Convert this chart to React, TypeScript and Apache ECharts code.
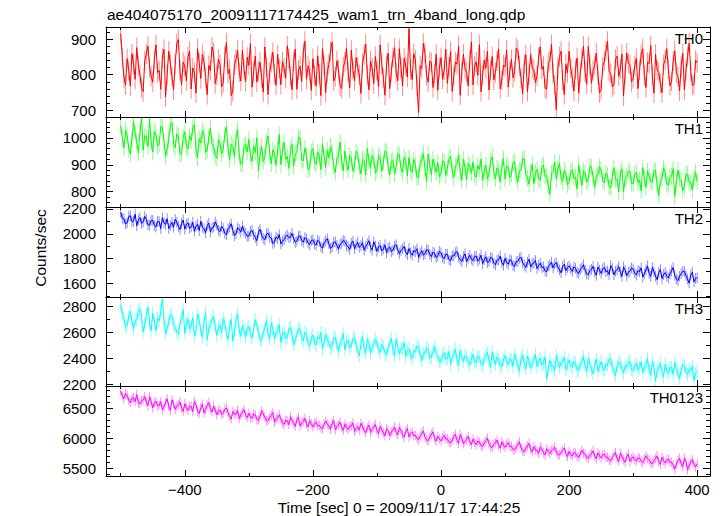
import React, { useEffect, useRef } from "react";
import * as echarts from "echarts";

// ---- data (counts/sec, 2.5-s bins starting at t = -500 s) ----
const TIME_START = -500;
const BIN_SEC = 2.5;

const TH0 = [
  915, 848, 792, 771, 845, 812, 768, 859, 830, 787, 876, 824, 801, 763, 752, 839, 858, 880, 821, 796,
  779, 842, 884, 806, 812, 759, 846, 871, 737, 801, 866, 829, 795, 757, 830, 888, 899, 811, 772, 835,
  824, 783, 851, 866, 760, 819, 807, 748, 873, 834, 789, 857, 838, 792, 744, 826, 812, 878, 862, 775,
  798, 844, 829, 766, 776, 852, 890, 803, 815, 741, 754, 827, 843, 869, 807, 782, 869, 814, 781, 849,
  826, 887, 765, 808, 852, 779, 810, 835, 791, 751, 878, 822, 744, 806, 834, 863, 803, 770, 857, 816,
  772, 837, 819, 790, 881, 846, 796, 758, 838, 872, 759, 813, 824, 781, 862, 894, 787, 825, 810, 756,
  845, 799, 768, 853, 802, 741, 873, 827, 750, 808, 829, 866, 891, 782, 794, 839, 815, 768, 761, 822,
  836, 874, 808, 763, 869, 815, 783, 848, 822, 799, 747, 831, 856, 886, 800, 757, 838, 819, 775, 851,
  812, 766, 884, 830, 790, 742, 827, 861, 761, 809, 848, 876, 805, 783, 873, 821, 768, 846, 825, 793,
  930, 815, 786, 859, 842, 770, 694, 825, 817, 888, 861, 797, 779, 838, 834, 764, 802, 857, 756, 819,
  848, 787, 813, 871, 776, 822, 865, 753, 795, 836, 829, 880, 742, 809, 858, 817, 807, 768, 840, 892,
  771, 824, 836, 798, 884, 752, 799, 841, 818, 866, 757, 812, 851, 785, 806, 839, 872, 760, 784, 827,
  822, 869, 765, 810, 843, 791, 809, 875, 868, 825, 790, 746, 831, 856, 752, 801, 857, 818, 813, 778,
  797, 850, 878, 815, 824, 762, 760, 833, 839, 885, 803, 771, 702, 819, 851, 866, 785, 744, 829, 805,
  866, 818, 792, 754, 815, 847, 748, 806, 843, 880, 807, 773, 879, 826, 776, 812, 826, 861, 801, 749,
  758, 822, 838, 867, 894, 809, 803, 766, 771, 843, 852, 795, 815, 858, 740, 804, 861, 832, 829, 780,
  789, 825, 846, 761, 812, 857, 873, 798, 764, 835, 831, 882, 797, 748, 858, 813, 806, 776, 749, 828,
  842, 873, 815, 769, 781, 838, 867, 805, 795, 754, 824, 860, 758, 812, 851, 889, 809, 770, 772, 841,
  833,
];

const TH1 = [
  1045, 1001, 962, 1028, 1010, 958, 941, 995, 1062, 1017, 987, 944, 1020, 1075, 955, 1009, 1003, 968, 1071, 985,
  948, 1026, 1012, 970, 976, 1043, 1040, 989, 931, 960, 995, 1051, 1058, 977, 964, 1015, 1007, 939, 942, 1003,
  1023, 968, 959, 1008, 990, 1039, 1049, 957, 925, 998, 981, 1027, 1013, 946, 952, 1004, 1036, 979, 970, 931,
  924, 993, 982, 941, 958, 1014, 1041, 962, 917, 978, 969, 930, 998, 1032, 935, 902, 906, 971, 976, 948,
  995, 934, 913, 968, 946, 1001, 877, 939, 969, 912, 930, 986, 1007, 948, 903, 957, 940, 898, 955, 1012,
  901, 955, 983, 921, 932, 887, 958, 976, 894, 940, 946, 1003, 999, 918, 915, 962, 937, 881, 886, 949,
  960, 911, 902, 948, 933, 882, 978, 931, 890, 954, 925, 969, 947, 894, 871, 922, 936, 985, 909, 877,
  951, 902, 880, 936, 922, 878, 898, 950, 940, 893, 867, 921, 915, 862, 960, 914, 888, 935, 923, 869,
  880, 935, 925, 876, 909, 952, 947, 894, 862, 913, 919, 866, 893, 941, 938, 887, 871, 929, 916, 858,
  927, 881, 872, 920, 901, 853, 854, 906, 918, 942, 885, 839, 940, 898, 863, 921, 894, 872, 909, 856,
  867, 914, 912, 861, 888, 925, 931, 877, 853, 896, 900, 938, 876, 842, 921, 889, 844, 905, 895, 869,
  910, 863, 854, 897, 883, 921, 842, 875, 899, 848, 865, 916, 930, 873, 848, 889, 877, 835, 893, 924,
  847, 896, 891, 852, 865, 907, 912, 858, 836, 879, 880, 922, 922, 864, 850, 827, 874, 901, 829, 870,
  883, 846, 842, 893, 899, 857, 860, 821, 790, 868, 875, 911, 847, 885, 906, 852, 838, 879, 865, 826,
  837, 874, 882, 849, 855, 809, 900, 861, 823, 878, 870, 835, 847, 895, 891, 852, 816, 860, 863, 893,
  882, 841, 833, 869, 861, 818, 814, 857, 890, 846, 847, 799, 869, 885, 799, 848, 856, 874, 878, 831,
  829, 867, 872, 834, 844, 803, 890, 851, 815, 876, 857, 839, 836, 878, 879, 824, 785, 842, 851, 889,
  871, 829, 825, 852, 858, 886, 782, 839, 880, 847, 843, 803, 819, 866, 865, 834, 834, 806, 851, 872,
  838,
];

const TH2 = [
  2172, 2126, 2121, 2079, 2088, 2139, 2146, 2097, 2103, 2158, 2065, 2112, 2131, 2083, 2094, 2140, 2116, 2071, 2069, 2108,
  2109, 2066, 2054, 2101, 2098, 2041, 2130, 2088, 2075, 2122, 2042, 2067, 2091, 2053, 2117, 2094, 2059, 2034, 2083, 2111,
  2037, 2078, 2089, 2044, 2056, 2093, 2020, 2061, 2077, 2025, 2101, 2052, 2041, 2008, 2066, 2087, 2015, 2049, 2054, 2096,
  2071, 2029, 2018, 2059, 2043, 2003, 1992, 2040, 2055, 2081, 2026, 1985, 1998, 2049, 2037, 2013, 2062, 2021, 2004, 1979,
  1981, 2018, 2027, 1993, 1970, 1944, 2012, 2036, 1988, 1962, 1951, 1997, 2005, 1974, 1966, 1921, 1932, 1975, 1960, 1994,
  1918, 1939, 1952, 1977, 1990, 1968, 1974, 2003, 1962, 1931, 1941, 1979, 1983, 1947, 1932, 1969, 1958, 1925, 1912, 1946,
  1951, 1919, 1908, 1948, 1937, 1896, 1884, 1927, 1942, 1961, 1919, 1882, 1893, 1930, 1935, 1906, 1878, 1914, 1924, 1946,
  1938, 1907, 1896, 1873, 1924, 1941, 1879, 1911, 1931, 1889, 1905, 1928, 1867, 1898, 1919, 1944, 1891, 1868, 1936, 1902,
  1858, 1893, 1905, 1862, 1877, 1911, 1846, 1884, 1893, 1856, 1868, 1902, 1912, 1871, 1839, 1865, 1879, 1898, 1853, 1831,
  1881, 1846, 1827, 1863, 1856, 1879, 1810, 1841, 1863, 1828, 1838, 1871, 1869, 1834, 1815, 1852, 1844, 1807, 1822, 1859,
  1846, 1809, 1800, 1836, 1834, 1792, 1782, 1824, 1821, 1848, 1857, 1811, 1793, 1776, 1815, 1839, 1774, 1803, 1827, 1795,
  1784, 1815, 1821, 1779, 1796, 1827, 1759, 1791, 1815, 1768, 1776, 1809, 1803, 1763, 1750, 1787, 1791, 1820, 1768, 1746,
  1802, 1770, 1754, 1791, 1783, 1744, 1739, 1776, 1778, 1803, 1810, 1766, 1748, 1729, 1771, 1795, 1732, 1758, 1764, 1785,
  1719, 1745, 1762, 1728, 1733, 1700, 1695, 1738, 1750, 1771, 1724, 1756, 1768, 1731, 1709, 1685, 1736, 1754, 1702, 1727,
  1741, 1718, 1697, 1733, 1722, 1689, 1679, 1712, 1728, 1750, 1705, 1676, 1671, 1703, 1714, 1738, 1692, 1665, 1732, 1707,
  1681, 1716, 1728, 1694, 1702, 1671, 1743, 1721, 1669, 1698, 1711, 1735, 1690, 1657, 1733, 1706, 1662, 1689, 1698, 1724,
  1716, 1683, 1667, 1702, 1695, 1726, 1651, 1676, 1709, 1741, 1680, 1656, 1728, 1694, 1658, 1630, 1687, 1712, 1639, 1671,
  1687, 1659, 1643, 1676, 1702, 1728, 1665, 1634, 1623, 1658, 1679, 1697, 1696, 1663, 1634, 1602, 1668, 1690, 1612, 1640,
  1645,
];

const TH3 = [
  2812, 2741, 2705, 2637, 2650, 2719, 2758, 2684, 2621, 2692, 2694, 2763, 2779, 2711, 2602, 2655, 2733, 2790, 2668, 2609,
  2745, 2671, 2613, 2704, 2688, 2752, 2855, 2697, 2590, 2631, 2672, 2738, 2721, 2652, 2638, 2597, 2584, 2669, 2706, 2773,
  2592, 2665, 2701, 2624, 2647, 2710, 2569, 2611, 2738, 2689, 2615, 2560, 2682, 2747, 2543, 2626, 2660, 2693, 2719, 2641,
  2574, 2632, 2658, 2595, 2703, 2667, 2589, 2546, 2640, 2698, 2531, 2609, 2685, 2742, 2607, 2568, 2650, 2613, 2562, 2629,
  2646, 2588, 2558, 2621, 2697, 2651, 2605, 2539, 2537, 2602, 2631, 2689, 2584, 2549, 2674, 2622, 2550, 2596, 2613, 2657,
  2518, 2587, 2605, 2547, 2561, 2623, 2640, 2578, 2504, 2541, 2577, 2629, 2623, 2553, 2532, 2601, 2586, 2515, 2493, 2558,
  2578, 2520, 2501, 2563, 2549, 2597, 2468, 2527, 2584, 2541, 2523, 2475, 2492, 2556, 2559, 2504, 2450, 2512, 2537, 2589,
  2463, 2527, 2537, 2480, 2495, 2552, 2559, 2498, 2452, 2419, 2510, 2566, 2474, 2438, 2542, 2509, 2439, 2487, 2501, 2545,
  2521, 2466, 2442, 2505, 2489, 2436, 2425, 2480, 2512, 2553, 2460, 2417, 2544, 2491, 2431, 2474, 2476, 2520, 2414, 2458,
  2472, 2421, 2398, 2459, 2450, 2496, 2487, 2420, 2381, 2437, 2436, 2479, 2469, 2401, 2406, 2452, 2493, 2430, 2419, 2375,
  2369, 2428, 2442, 2390, 2398, 2451, 2353, 2411, 2431, 2468, 2387, 2345, 2460, 2409, 2375, 2423, 2412, 2366, 2346, 2398,
  2429, 2371, 2364, 2417, 2406, 2355, 2341, 2398, 2418, 2446, 2376, 2329, 2450, 2394, 2353, 2411, 2392, 2343, 2332, 2386,
  2418, 2372, 2349, 2399, 2385, 2337, 2434, 2381, 2338, 2306, 2396, 2427, 2361, 2318, 2417, 2376, 2327, 2364, 2380, 2431,
  2336, 2381, 2399, 2347, 2362, 2410, 2240, 2318, 2383, 2339, 2345, 2301, 2420, 2377, 2329, 2368, 2371, 2406, 2312, 2352,
  2385, 2343, 2328, 2376, 2361, 2309, 2307, 2355, 2376, 2414, 2341, 2297, 2398, 2350, 2315, 2281, 2354, 2392, 2300, 2338,
  2373, 2322, 2306, 2358, 2347, 2391, 2390, 2334, 2299, 2266, 2338, 2372, 2362, 2318, 2288, 2341, 2331, 2368, 2377, 2312,
  2304, 2345, 2362, 2310, 2326, 2371, 2289, 2327, 2351, 2396, 2312, 2270, 2378, 2329, 2225, 2302, 2335, 2361, 2296, 2258,
  2352, 2304, 2285, 2331, 2328, 2277, 2366, 2315, 2278, 2243, 2311, 2352, 2343, 2294, 2272, 2318, 2304, 2341, 2230, 2287,
  2300,
];

const TH0123 = [
  6780, 6702, 6655, 6741, 6712, 6628, 6590, 6663, 6668, 6607, 6725, 6583, 6571, 6619, 6634, 6691, 6598, 6542, 6689, 6603,
  6502, 6588, 6611, 6536, 6547, 6609, 6468, 6517, 6590, 6654, 6523, 6461, 6635, 6569, 6476, 6527, 6559, 6603, 6498, 6443,
  6571, 6499, 6462, 6530, 6528, 6441, 6610, 6556, 6445, 6409, 6503, 6568, 6419, 6476, 6548, 6592, 6481, 6433, 6532, 6466,
  6388, 6453, 6467, 6395, 6412, 6482, 6503, 6426, 6359, 6318, 6441, 6399, 6396, 6465, 6322, 6387, 6428, 6475, 6375, 6341,
  6412, 6345, 6331, 6402, 6389, 6306, 6297, 6361, 6455, 6398, 6352, 6288, 6298, 6340, 6377, 6426, 6264, 6317, 6341, 6385,
  6318, 6251, 6226, 6297, 6289, 6221, 6354, 6295, 6243, 6197, 6302, 6348, 6198, 6250, 6276, 6330, 6231, 6184, 6289, 6239,
  6186, 6240, 6265, 6207, 6212, 6168, 6157, 6229, 6281, 6236, 6198, 6146, 6243, 6292, 6136, 6191, 6220, 6263, 6175, 6128,
  6228, 6173, 6142, 6195, 6201, 6252, 6110, 6158, 6187, 6131, 6245, 6200, 6128, 6087, 6169, 6214, 6095, 6147, 6181, 6226,
  6125, 6072, 6193, 6141, 6087, 6035, 6154, 6119, 6042, 6097, 6133, 6180, 6098, 6051, 6176, 6124, 6059, 6013, 6112, 6160,
  6021, 6074, 6098, 6039, 6045, 5994, 5973, 6026, 6077, 6118, 6012, 5967, 5958, 6015, 6063, 6104, 5996, 5949, 6030, 5985,
  5952, 6009, 6041, 5983, 5987, 5932, 5918, 5969, 6019, 6062, 5962, 5911, 6058, 6001, 5903, 5944, 5975, 6027, 5936, 5889,
  5982, 5928, 5889, 5951, 5934, 5872, 5861, 5917, 5956, 5998, 5907, 5853, 5843, 5894, 5921, 5966, 5878, 5830, 5935, 5882,
  5846, 5893, 5919, 5858, 5862, 5808, 5803, 5851, 5891, 5937, 5834, 5786, 5775, 5829, 5868, 5911, 5812, 5769, 5857, 5801,
  5789, 5741, 5853, 5806, 5756, 5715, 5821, 5774, 5742, 5793, 5808, 5849, 5765, 5722, 5716, 5768, 5794, 5833, 5737, 5692,
  5776, 5724, 5702, 5758, 5749, 5697, 5681, 5735, 5795, 5748, 5727, 5672, 5664, 5714, 5741, 5786, 5698, 5651, 5753, 5706,
  5667, 5718, 5734, 5679, 5681, 5633, 5622, 5674, 5712, 5757, 5653, 5608, 5748, 5692, 5638, 5596, 5691, 5735, 5612, 5660,
  5689, 5641, 5617, 5668, 5665, 5613, 5589, 5642, 5702, 5657, 5634, 5582, 5571, 5623, 5658, 5703, 5604, 5559, 5677, 5625,
  5583, 5631, 5648, 5594, 5597, 5549, 5480, 5566, 5621, 5662, 5568, 5521, 5659, 5605, 5470, 5543, 5602, 5639, 5556, 5518,
  5575,
];

const PANEL_NAMES = ["TH0", "TH1", "TH2", "TH3", "TH0123"];
const SERIES_VALUES = [TH0, TH1, TH2, TH3, TH0123];
// typical 1-sigma error bar half-length of each band (counts/sec)
const ERROR_HALF = [28, 30, 43, 50, 78];

// tick labels
const TIME_TICKS = [-400, -200, 0, 200, 400];
const TIME_MINOR_TICKS = [-500, -300, -100, 100, 300];
const Y_TICKS = [
  [700, 800, 900],
  [800, 900, 1000],
  [1600, 1800, 2000, 2200],
  [2200, 2400, 2600, 2800],
  [5500, 6000, 6500],
];
const Y_MINOR_STEP = [20, 20, 100, 100, 100];
const Y_RANGES = [
  [681, 934],
  [743, 1078],
  [1490, 2216],
  [2187, 2869],
  [5367, 6867],
];
const X_RANGE = [-523, 420];

const TITLE = "ae404075170_20091117174425_wam1_trn_4band_long.qdp";
const X_TITLE = "Time [sec] 0 = 2009/11/17 17:44:25";
const Y_TITLE = "Counts/sec";

// ---- styles / layout ----
const COLORS = ["#ff0000", "#00ff00", "#0000ff", "#00ffff", "#ff00ff"];
const ERR_COLORS = ["#ff8c8c", "#8cff8c", "#8c8cff", "#8cffff", "#ff8cff"];
const PANEL_TOPS = [27, 117, 207, 297, 386];
const PANEL_HEIGHTS = [90, 90, 90, 89, 90];
const FONT = '"Liberation Sans", Arial, Helvetica, sans-serif';

function minorTicks(range: number[], step: number, majors: number[]) {
  const out: number[] = [];
  for (let v = Math.ceil(range[0] / step) * step; v <= range[1]; v += step) {
    if (!majors.includes(v)) out.push(v);
  }
  return out;
}

const fmtX = (v: number) => (v < 0 ? "\u2212" + Math.abs(v) : String(v));
const fmtY = (v: number) => String(v);

function textEl(text: string, x: number, y: number, align: string, size: number, extra: any = {}) {
  return {
    type: "text",
    x,
    y,
    z: 100,
    ...extra,
    style: {
      text,
      fill: "#000",
      font: `${size}px ${FONT}`,
      align,
      textAlign: align,
      verticalAlign: "middle",
      textVerticalAlign: "middle",
    },
  };
}

function buildOption() {
  const grid: any[] = [];
  const xAxis: any[] = [];
  const yAxis: any[] = [];
  const series: any[] = [];
  const graphic: any[] = [];
  const black = { color: "#000", width: 1 };

  PANEL_NAMES.forEach((name, i) => {
    grid.push({
      left: 106,
      width: 604,
      top: PANEL_TOPS[i],
      height: PANEL_HEIGHTS[i],
      outerBoundsMode: "none",
    });
    const xBase = {
      type: "value",
      gridIndex: i,
      min: X_RANGE[0],
      max: X_RANGE[1],
      splitLine: { show: false },
    };
    (["bottom", "top"] as const).forEach((pos) => {
      xAxis.push({
        ...xBase,
        position: pos,
        z: 10,
        axisLine: { show: true, onZero: false, lineStyle: black },
        axisTick: { show: true, inside: true, length: 6, customValues: TIME_TICKS, lineStyle: black },
        axisLabel: {
          show: pos === "bottom" && i === PANEL_NAMES.length - 1,
          customValues: TIME_TICKS,
          formatter: fmtX,
          color: "#000",
          fontSize: 15,
          fontFamily: FONT,
          margin: 6,
        },
      });
      xAxis.push({
        ...xBase,
        position: pos,
        z: 10,
        axisLine: { show: false, onZero: false },
        axisTick: { show: true, inside: true, length: 3, customValues: TIME_MINOR_TICKS, lineStyle: black },
        axisLabel: { show: false },
      });
    });

    const yr = Y_RANGES[i];
    const majors = Y_TICKS[i];
    const minors = minorTicks(yr, Y_MINOR_STEP[i], majors);
    const yBase = {
      type: "value",
      gridIndex: i,
      min: yr[0],
      max: yr[1],
      splitLine: { show: false },
    };
    (["left", "right"] as const).forEach((pos) => {
      yAxis.push({
        ...yBase,
        position: pos,
        z: 10,
        axisLine: { show: true, onZero: false, lineStyle: black },
        axisTick: { show: true, inside: true, length: 7, customValues: majors, lineStyle: black },
        axisLabel: {
          show: pos === "left",
          customValues: majors,
          formatter: fmtY,
          color: "#000",
          fontSize: 15,
          fontFamily: FONT,
          margin: 10,
        },
      });
      yAxis.push({
        ...yBase,
        position: pos,
        z: 10,
        axisLine: { show: false, onZero: false },
        axisTick: { show: true, inside: true, length: 4, customValues: minors, lineStyle: black },
        axisLabel: { show: false },
      });
    });

    const points = SERIES_VALUES[i].map((v, k) => [TIME_START + k * BIN_SEC, v]);
    const err = ERROR_HALF[i];
    const errColor = ERR_COLORS[i];

    series.push({
      type: "custom",
      name: name + " err",
      xAxisIndex: i * 4,
      yAxisIndex: i * 4,
      data: points,
      encode: { x: 0, y: 1 },
      silent: true,
      clip: true,
      z: 1,
      renderItem: (_params: any, api: any) => {
        const x = api.value(0);
        const y = api.value(1);
        const p1 = api.coord([x, y - err]);
        const p2 = api.coord([x, y + err]);
        return {
          type: "line",
          shape: { x1: p1[0], y1: p1[1], x2: p2[0], y2: p2[1] },
          style: { stroke: errColor, lineWidth: 1 },
        };
      },
    });

    series.push({
      type: "line",
      name,
      xAxisIndex: i * 4,
      yAxisIndex: i * 4,
      data: points,
      showSymbol: false,
      symbol: "none",
      silent: true,
      clip: true,
      z: 2,
      lineStyle: { color: COLORS[i], width: 1 },
      itemStyle: { color: COLORS[i] },
    });

    graphic.push(textEl(name, 703, PANEL_TOPS[i] + 11, "right", 15));
  });

  graphic.push(textEl(TITLE, 107, 14, "left", 15.5));
  graphic.push(textEl(X_TITLE, 399, 507, "center", 15.5));
  graphic.push(textEl(Y_TITLE, 40, 248, "center", 15.5, { rotation: Math.PI / 2 }));

  return {
    animation: false,
    backgroundColor: "#fff",
    grid,
    xAxis,
    yAxis,
    series,
    graphic,
  };
}

export default function App() {
  const ref = useRef<HTMLDivElement>(null);
  useEffect(() => {
    if (!ref.current) return;
    const chart = echarts.init(ref.current, undefined, { renderer: "svg" });
    chart.setOption(buildOption() as any);
    return () => chart.dispose();
  }, []);
  return (
    <div
      ref={ref}
      style={{ position: "fixed", left: 0, top: 0, width: 724, height: 516, background: "#fff" }}
    />
  );
}
